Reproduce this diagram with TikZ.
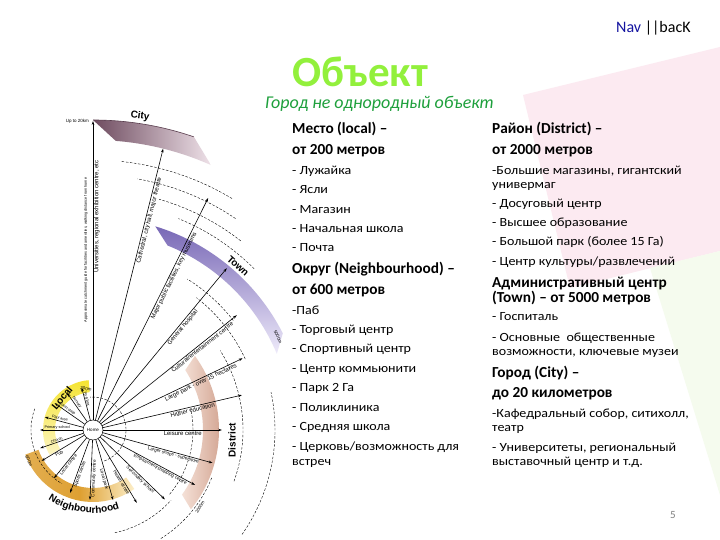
\documentclass[tikz,border=0pt]{standalone}
\usepackage{fontspec}
\setmainfont{Carlito}
\newfontfamily\bodyfont{Carlito}[FakeStretch=1.12]
\newfontfamily\diagfont{Liberation Sans}
\usetikzlibrary{arrows.meta,decorations.text}
\definecolor{titlegreen}{RGB}{146,240,60}
\definecolor{subgreen}{RGB}{30,160,60}
\definecolor{navblue}{RGB}{20,20,160}
\definecolor{bgpink}{RGB}{252,234,241}
\definecolor{bggreen}{RGB}{245,251,238}
\definecolor{cityD}{RGB}{110,75,95}
\definecolor{cityL}{RGB}{238,225,232}
\definecolor{townD}{RGB}{120,104,182}
\definecolor{townL}{RGB}{238,234,250}
\definecolor{distD}{RGB}{205,155,135}
\definecolor{distL}{RGB}{245,225,215}
\definecolor{locY}{RGB}{245,228,50}
\definecolor{locL}{RGB}{252,245,195}
\definecolor{nbD}{RGB}{222,160,50}
\definecolor{nbL}{RGB}{252,238,200}
\begin{document}
\begin{tikzpicture}[x=1pt,y=1pt,
 body/.style={anchor=west,inner sep=0pt,font=\bodyfont\fontsize{12.5}{14}\selectfont,text height=8.5pt,text depth=3pt},
 head/.style={body,font=\bfseries\fontsize{15.3}{16}\selectfont,text height=10pt,text depth=3.5pt},
 ray/.style={-{Stealth[length=4pt,width=2.6pt]},line width=0.6pt},
 lblA/.style={font=\diagfont\fontsize{6}{6}\selectfont,inner sep=0.8pt,sloped,below},
 lblB/.style={font=\diagfont\fontsize{4.6}{5}\selectfont,inner sep=0.6pt,sloped,below},
 lblC/.style={font=\diagfont\fontsize{3.8}{4}\selectfont,inner sep=0.5pt,sloped,above},
 arcd/.style={dash pattern=on 2.5pt off 1.6pt,line width=0.4pt},
 zone/.style={font=\diagfont\bfseries\fontsize{10}{10}\selectfont,inner sep=0pt},
 dist/.style={font=\diagfont\fontsize{4.5}{5}\selectfont,inner sep=0pt}]
\path[use as bounding box] (0,0) rectangle (720,540);
\fill[white] (0,0) rectangle (720,540);
% background
\fill[bgpink] (523,445) -- (720,493) -- (720,289) -- (570,252) -- cycle;
\fill[bggreen] (650,272) -- (720,289) -- (720,45) -- cycle;
% header
\node[font=\bfseries\fontsize{43}{43}\selectfont,text=titlegreen] (title) at (360,468) {Объект};
\node[anchor=west,inner sep=0pt,font=\itshape\fontsize{18}{18}\selectfont,text=subgreen] (sub) at (265,436) {Город не однородный объект};
\node[anchor=west,inner sep=0pt,font=\fontsize{16}{16}\selectfont] (nav) at (616,512) {\textcolor{navblue}{Nav} ||bacK};
\node[text=gray,font=\fontsize{11}{11}\selectfont] (pg) at (673,25) {5};
% left column
\node[head] (a1) at (292,410) {Место (local) –};
\node[head] (a2) at (292,389) {от 200 метров};
\node[body] (a3) at (292,368) {- Лужайка};
\node[body] (a4) at (292,349) {- Ясли};
\node[body] (a5) at (292,329) {- Магазин};
\node[body] (a6) at (292,310) {- Начальная школа};
\node[body] (a7) at (292,291) {- Почта};
\node[head] (a8) at (292,270) {Округ (Neighbourhood) –};
\node[head] (a9) at (292,249) {от 600 метров};
\node[body] (a10) at (292,228) {-Паб};
\node[body] (a11) at (292,209) {- Торговый центр};
\node[body] (a12) at (292,190) {- Спортивный центр};
\node[body] (a13) at (292,170) {- Центр коммьюнити};
\node[body] (a14) at (292,151) {- Парк 2 Га};
\node[body] (a15) at (292,131) {- Поликлиника};
\node[body] (a16) at (292,112) {- Средняя школа};
\node[body] (a17) at (292,92) {- Церковь/возможность для};
\node[body] (a18) at (292,77) {встреч};
% right column
\node[head] (b1) at (492,410) {Район (District) –};
\node[head] (b2) at (492,389) {от 2000 метров};
\node[body] (b3) at (492,368) {-Большие магазины, гигантский};
\node[body] (b4) at (492,354) {универмаг};
\node[body] (b5) at (492,335) {- Досуговый центр};
\node[body] (b6) at (492,316) {- Высшее образование};
\node[body] (b7) at (492,297) {- Большой парк (более 15 Га)};
\node[body] (b8) at (492,277) {- Центр культуры/развлечений};
\node[head] (b9) at (492,256) {Административный центр};
\node[head] (b10) at (492,241) {(Town) – от 5000 метров};
\node[body] (b11) at (492,222) {- Госпиталь};
\node[body] (b12) at (492,201) {- Основные\ \ общественные};
\node[body] (b13) at (492,187) {возможности, ключевые музеи};
\node[head] (b14) at (492,166) {Город (City) –};
\node[head] (b15) at (492,146) {до 20 километров};
\node[body] (b16) at (492,125) {-Кафедральный собор, ситихолл,};
\node[body] (b17) at (492,111) {театр};
\node[body] (b18) at (492,91) {- Университеты, региональный};
\node[body] (b19) at (492,77) {выставочный центр и т.д.};
% diagram
\begin{scope}[shift={(93,110)}]
 % bands
 \shade[left color=cityD,right color=cityL] (90:310) arc[start angle=90,end angle=71,radius=310] -- (66:290) arc[start angle=66,end angle=85.5,radius=290] -- cycle;
 \draw[cityD!80!black,line width=0.6pt] (90:310) arc[start angle=90,end angle=71,radius=310];
 \shade[top color=townD,bottom color=townL] (73:213) arc[start angle=73,end angle=27,radius=213] -- (22.5:199) arc[start angle=22.5,end angle=68,radius=199] -- cycle;
 \shade[left color=distL,right color=distD] (-36:110) arc[start angle=-36,end angle=33,radius=110] -- (36:126) arc[start angle=36,end angle=-39,radius=126] -- cycle;
 \shade[top color=locY,bottom color=locL] (95:50) arc[start angle=95,end angle=210,radius=50] -- (210:38) arc[start angle=210,end angle=95,radius=38] -- cycle;
 \shade[left color=nbD!85,right color=nbL,middle color=nbD] (200:58) arc[start angle=200,end angle=305,radius=58] -- (305:72) arc[start angle=305,end angle=200,radius=72] -- cycle;
 % dashed arcs
 \foreach \r/\s/\e in {33/-70/95,62/160/240,100/-40/12,150/-20/32,168/25/52,178/38/58,182/-35/12,228/45/68,240/52/74,255/56/80,270/59/84,105/-78/-42,128/-58/-22}
  \draw[arcd] (\s:\r) arc[start angle=\s,end angle=\e,radius=\r];
 % home
 \node[circle,draw,fill=white,minimum size=20pt,inner sep=0pt,line width=0.5pt,font=\diagfont\fontsize{4.5}{5}\selectfont] (home) at (0,0) {Home};
 % rays
 \foreach \a/\r/\p/\t [count=\i] in {90/309/.68/{Universities, regional exhibition centre, etc},76/290/.74/{Cathedral, city hall, major theatre},63.6/259/.66/{Major public facilities, key museums},50.4/210/.63/{General hospital},38.6/184/.73/{Cultural/entertainment centre},25.6/166/.69/{Large park - over 15 hectares},13.2/153/.64/{Higher education},0/129/.67/{Leisure centre}}{
  \coordinate (ta\i) at (\a:\r);
  \draw[ray] (home) -- (ta\i) node[lblA,pos=\p] (la\i) {\t};
 }
 \foreach \a/\r/\p/\t [count=\i] in {-15.4/124/.65/{Larger shops - superstore},-28.3/116/.64/{Employment/shopping centre},-44/100/.65/{Secondary school},-59/85/.66/{Health centre},-74/73/.64/{Local park},-92.5/70/.64/{Community centre},-110/67/.63/{Sports centre},-129/62/.62/{Local centre},-149/60/.62/{Pub}}{
  \coordinate (tb\i) at (\a:\r);
  \draw[ray] (home) -- (tb\i) node[lblB,pos=\p] (lb\i) {\t};
 }
 \foreach \a/\r/\p/\t [count=\i] in {105/44/.62/{Post box},125/45/.62/{Nursery},145/47/.62/{Local shop},165/50/.62/{Play area},180/53/.6/{Primary school},199/56/.6/{Church}}{
  \coordinate (tc\i) at (\a:\r);
  \draw[ray] (home) -- (tc\i) node[lblC,pos=\p] (lc\i) {\t};
 }
 % Neighbourhood curved label
 \path[decorate,decoration={text along path,text align=center,text={|\diagfont\bfseries\fontsize{10}{10}\selectfont|Neighbourhood}}] (226:83) arc[start angle=226,end angle=300,radius=83];
\end{scope}
% zone labels
\node[zone,rotate=-8] (zcity) at (140,424) {City};
\node[zone,rotate=-42] (ztown) at (238,274) {Town};
\node[zone,rotate=90] (zdist) at (232,100) {District};
\node[zone,rotate=50] (zloc) at (62,142) {Local};
% distance labels
\node[dist,anchor=east] (d1) at (89,419) {Up to 20km};
\node[dist,rotate=-10] (d2) at (86,151) {200m};
\node[dist,rotate=-65] (d3) at (29,79) {600m};
\node[dist,rotate=60] (d4) at (200,33) {2000m};
\node[dist,rotate=-65] (d5) at (278,203) {5000m};
\node[dist,rotate=90,font=\diagfont\fontsize{3.8}{4}\selectfont] (vt) at (86,290) {Approximate catchment guide for facilities and amenities, walking distance from home};
\end{tikzpicture}
\end{document}
